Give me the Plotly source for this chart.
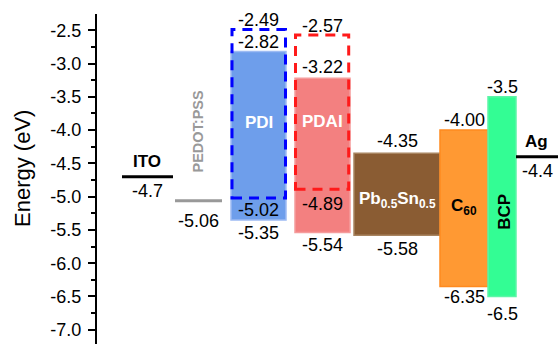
import plotly.graph_objects as go

# ---- energy levels (eV) ----
# electrodes / thin interlayers drawn as single levels
level_names = ["ITO", "PEDOT:PSS", "Ag"]
level_values = [-4.7, -5.06, -4.4]
level_digits = [1, 2, 1]

# semiconductor layers drawn as LUMO-HOMO boxes
layer_names = ["PDI", "PDAI", "Pb<sub>0.5</sub>Sn<sub>0.5</sub>", "C<sub>60</sub>", "BCP"]
layer_lumo = [-2.82, -3.22, -4.35, -4.00, -3.5]
layer_homo = [-5.35, -5.54, -5.58, -6.35, -6.5]
layer_digits = [2, 2, 2, 2, 1]

# second set of levels for the two interlayers (dashed outlines)
dashed_names = ["PDI", "PDAI"]
dashed_lumo = [-2.49, -2.57]
dashed_homo = [-5.02, -4.89]

# y-axis ticks
tick_values = [-2.5, -3.0, -3.5, -4.0, -4.5, -5.0, -5.5, -6.0, -6.5, -7.0]
tick_labels = ["-2.5", "-3.0", "-3.5", "-4.0", "-4.5", "-5.0", "-5.5", "-6.0", "-6.5", "-7.0"]

# ---- layout geometry (x in pixel-like units) ----
level_x0 = [122, 175, 516]
level_x1 = [173, 222, 560]
level_colors = ["black", "#999999", "black"]
level_name_colors = ["black", "#999999", "black"]

bar_x0 = [231, 295, 354, 440, 488]
bar_x1 = [286, 350, 440, 488, 516]
bar_fill = ["#6E9EEB", "#F38080", "#8A5C33", "#FF9933", "#33FD94"]
bar_edge = ["#9DBBF3", "#F59C9C", "#A88460", "#FF8A1F", "#5EF5A8"]
bar_name_color = ["white", "white", "white", "black", "black"]
bar_name_y = [-3.886, -3.870, -5.045, -5.151, -5.226]
bar_name_angle = [0, 0, 0, 0, -90]
top_shift = [10, 11, 12, 10, 10]
bot_shift = [-13, -12, -14, -11, -18]

dash_x0 = [232, 295.5]
dash_x1 = [285.5, 348.7]
dash_colors = ["#0000FF", "#FF1A1A"]
dash_top_shift = [10, 9]
dash_bot_shift = [-12, -15]

FONT = "Liberation Sans, Arial, sans-serif"
VAL_SIZE = 18
NAME_SIZE = 17


def fmt(v, d):
    return f"{v:.{d}f}"


fig = go.Figure()

# LUMO-HOMO boxes
for i, name in enumerate(layer_names):
    fig.add_trace(go.Bar(
        x=[(bar_x0[i] + bar_x1[i]) / 2],
        y=[layer_lumo[i] - layer_homo[i]],
        base=[layer_homo[i]],
        width=[bar_x1[i] - bar_x0[i]],
        marker=dict(color=bar_fill[i], line=dict(color=bar_edge[i], width=1.5)),
        hoverinfo="skip",
        showlegend=False,
    ))

# single energy levels
for i, name in enumerate(level_names):
    fig.add_trace(go.Scatter(
        x=[level_x0[i], level_x1[i]],
        y=[level_values[i], level_values[i]],
        mode="lines",
        line=dict(color=level_colors[i], width=3),
        hoverinfo="skip",
        showlegend=False,
    ))

shapes = []
for i, name in enumerate(dashed_names):
    shapes.append(dict(
        type="rect", xref="x", yref="y",
        x0=dash_x0[i], x1=dash_x1[i], y0=dashed_homo[i], y1=dashed_lumo[i],
        line=dict(color=dash_colors[i], width=3, dash="10px,7px"),
        fillcolor="rgba(0,0,0,0)",
    ))

ann = []


def label(x, y, text, shift=0, size=VAL_SIZE, color="black", bold=False, angle=0):
    ann.append(dict(
        x=x, y=y, xref="x", yref="y", text=(f"<b>{text}</b>" if bold else text),
        showarrow=False, yshift=shift, textangle=angle,
        font=dict(family=FONT, size=size, color=color),
        xanchor="center", yanchor="middle",
    ))


# box values and names
for i, name in enumerate(layer_names):
    cx = (bar_x0[i] + bar_x1[i]) / 2
    label(cx, layer_lumo[i], fmt(layer_lumo[i], layer_digits[i]), top_shift[i])
    label(cx, layer_homo[i], fmt(layer_homo[i], layer_digits[i]), bot_shift[i])
    label(cx + (3 if i == 4 else 0), bar_name_y[i], name, size=NAME_SIZE,
          color=bar_name_color[i], bold=True, angle=bar_name_angle[i])

# dashed-level values
for i, name in enumerate(dashed_names):
    cx = (bar_x0[i] + bar_x1[i]) / 2
    label(cx, dashed_lumo[i], fmt(dashed_lumo[i], 2), dash_top_shift[i])
    label(cx, dashed_homo[i], fmt(dashed_homo[i], 2), dash_bot_shift[i])

# single-level values and names
for i, name in enumerate(level_names):
    cx = (level_x0[i] + min(level_x1[i], 558)) / 2
    label(cx, level_values[i], fmt(level_values[i], level_digits[i]), -14 if i != 1 else -20)
    if name == "PEDOT:PSS":
        label(198, -4.021, name, size=14.5, color=level_name_colors[i], bold=True, angle=-90)
    else:
        label(cx - 1, level_values[i], name, 15, size=NAME_SIZE, color=level_name_colors[i], bold=True)

# y-axis title
ann.append(dict(
    x=-0.163, y=0.533, xref="paper", yref="paper", text="Energy (eV)",
    showarrow=False, textangle=-90, xanchor="center", yanchor="middle",
    font=dict(family=FONT, size=22, color="black"),
))

fig.update_layout(
    width=558, height=344,
    margin=dict(l=97, r=0, t=14, b=0),
    paper_bgcolor="white", plot_bgcolor="white",
    barmode="overlay",
    shapes=shapes,
    annotations=ann,
    xaxis=dict(range=[97, 558], visible=False, showgrid=False, zeroline=False, fixedrange=True),
    yaxis=dict(
        range=[-7.214, -2.256],
        tickmode="array", tickvals=tick_values, ticktext=tick_labels,
        ticks="outside", ticklen=7, tickwidth=2, tickcolor="black",
        minor=dict(dtick=0.25, tick0=-2.25, ticks="outside", ticklen=4, tickwidth=2, tickcolor="black"),
        showline=True, linecolor="black", linewidth=2,
        showgrid=False, zeroline=False,
        tickfont=dict(family=FONT, size=18, color="black"),
        ticklabelstandoff=3,
    ),
)

fig.write_html("out.html")
